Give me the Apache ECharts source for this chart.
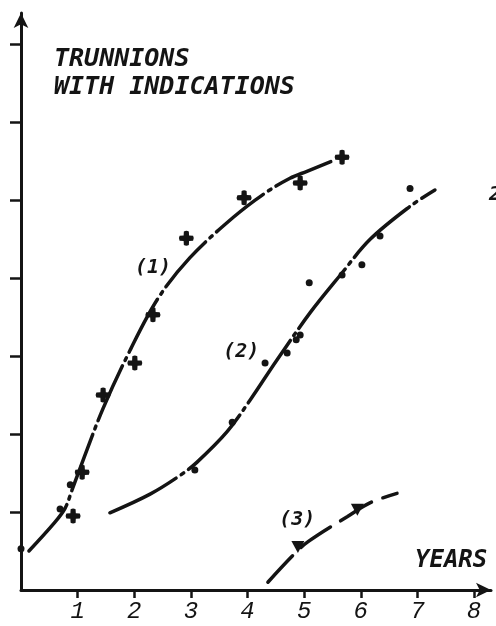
<!DOCTYPE html>
<html>
<head>
<meta charset="utf-8">
<script src="https://cdn.jsdelivr.net/npm/echarts@6/dist/echarts.min.js"></script>
<style>
html,body{margin:0;padding:0;background:#fff;}
#c{width:496px;height:626px;}
</style>
</head>
<body>
<div id="c"></div>
<script>
// ---- data (x = years, y = trunnions with indications, arbitrary units) ----
const xTicks = [1, 2, 3, 4, 5, 6, 7, 8];
const yTicks = [1, 2, 3, 4, 5, 6, 7];

const curve1 = [[0.14,0.50],[0.60,0.87],[0.78,1.05],[0.90,1.28],[1.11,1.69],[1.45,2.33],[1.93,3.08],[2.42,3.74],[2.98,4.26],[3.75,4.78],[4.31,5.09],[4.75,5.28],[5.05,5.37],[5.49,5.50]];
const marks1 = [[0.92,0.95],[1.08,1.51],[1.45,2.50],[2.01,2.91],[2.33,3.53],[2.92,4.51],[3.94,5.03],[4.93,5.22],[5.67,5.55]];
const dots1  = [[0,0.53],[0.69,1.04],[0.87,1.35]];

const curve2 = [[1.57,0.99],[2.28,1.23],[2.81,1.47],[3.11,1.64],[3.64,2.03],[4.05,2.44],[4.52,2.95],[5.11,3.56],[5.64,4.04],[6.17,4.50],[6.87,4.92],[7.31,5.13]];
const marks2 = [[3.07,1.54],[3.73,2.15],[4.31,2.91],[4.70,3.04],[4.86,3.21],[4.93,3.27],[5.09,3.94],[5.67,4.04],[6.02,4.17],[6.34,4.54],[6.87,5.15]];

const curve3 = [[4.36,0.10],[4.81,0.45],[5.07,0.62],[5.76,0.94],[6.17,1.12],[6.64,1.24]];
const marks3 = [[4.89,0.55],[5.94,1.03]];

const curveLabels = [[2.33,4.13,'(1)'],[3.89,3.06,'(2)'],[4.88,0.90,'(3)']];

const titleLines = ['TRUNNIONS', 'WITH INDICATIONS'];
const xName = 'YEARS';

// ---- chart ----
const INK = '#141414';
const FONT = 'DejaVu Sans Mono';
const plus = 'path://M-2.3,-6.2 Q0,-7.6 2.3,-6.2 L2.5,-2.5 L6.2,-2.3 Q7.6,0 6.2,2.3 L2.5,2.5 L2.3,6.2 Q0,7.6 -2.3,6.2 L-2.5,2.5 L-6.2,2.3 Q-7.6,0 -6.2,-2.3 L-2.5,-2.5 Z';

const chart = echarts.init(document.getElementById('c'), null, {renderer: 'canvas'});
chart.setOption({
  backgroundColor: '#ffffff',
  animation: false,
  title: {
    text: titleLines.join('\n'),
    left: 49, top: 40,
    textStyle: {fontFamily: FONT, fontSize: 25, fontWeight: 'bold', fontStyle: 'italic', color: INK, lineHeight: 28}
  },
  graphic: [
    {type: 'text', left: 415, top: 549, style: {text: xName, font: 'italic bold 24px "DejaVu Sans Mono"', fill: INK}},
    {type: 'text', left: 489, top: 185, style: {text: '2', font: 'italic bold 20px "DejaVu Sans Mono"', fill: INK}}
  ],
  grid: {left: 21, right: 5, top: 13, bottom: 36, containLabel: false},
  xAxis: {
    type: 'value', min: 0, max: 8.3, interval: 1,
    splitLine: {show: false},
    axisLine: {lineStyle: {color: INK, width: 3}, symbol: ['none', 'arrow'], symbolSize: [11, 15]},
    axisTick: {show: true, customValues: xTicks, length: 8, lineStyle: {color: INK, width: 2.5}},
    axisLabel: {customValues: xTicks, margin: 10, fontFamily: 'Liberation Mono', fontStyle: 'italic', fontSize: 24, color: INK}
  },
  yAxis: {
    type: 'value', min: 0, max: 7.4, interval: 1,
    splitLine: {show: false},
    axisLine: {lineStyle: {color: INK, width: 3}, symbol: ['none', 'arrow'], symbolSize: [11, 15]},
    axisTick: {show: true, customValues: yTicks, length: 11, lineStyle: {color: INK, width: 2.5}},
    axisLabel: {show: false}
  },
  series: [
    {type: 'line', data: curve1, smooth: 0.35, showSymbol: false, z: 2,
     lineStyle: {color: INK, width: 3.5, type: [60, 6, 3, 6], cap: 'round'}},
    {type: 'line', data: curve2, smooth: 0.35, showSymbol: false, z: 2,
     lineStyle: {color: INK, width: 3.5, type: [75, 6, 3, 6], cap: 'round'}},
    {type: 'line', data: curve3, smooth: 0.35, showSymbol: false, z: 2,
     lineStyle: {color: INK, width: 3.5, type: [36, 12], cap: 'round'}},
    {type: 'scatter', data: marks1, symbol: plus, symbolSize: 15, itemStyle: {color: INK, opacity: 1}, z: 3},
    {type: 'scatter', data: dots1, symbol: 'circle', symbolSize: 7, itemStyle: {color: INK, opacity: 1}, z: 3},
    {type: 'scatter', data: marks2, symbol: 'circle', symbolSize: 7, itemStyle: {color: INK, opacity: 1}, z: 3},
    {type: 'scatter', data: marks3, symbol: 'triangle', symbolRotate: 180, symbolSize: [13, 12], itemStyle: {color: INK, opacity: 1}, z: 3},
    {type: 'scatter', data: curveLabels, symbolSize: 0, z: 4, itemStyle: {opacity: 1},
     label: {show: true, position: 'inside', formatter: p => p.data[2], opacity: 1,
       textBorderWidth: 0, fontFamily: FONT, fontSize: 20, fontWeight: 'bold', fontStyle: 'italic', color: INK}}
  ]
});
</script>
</body>
</html>
